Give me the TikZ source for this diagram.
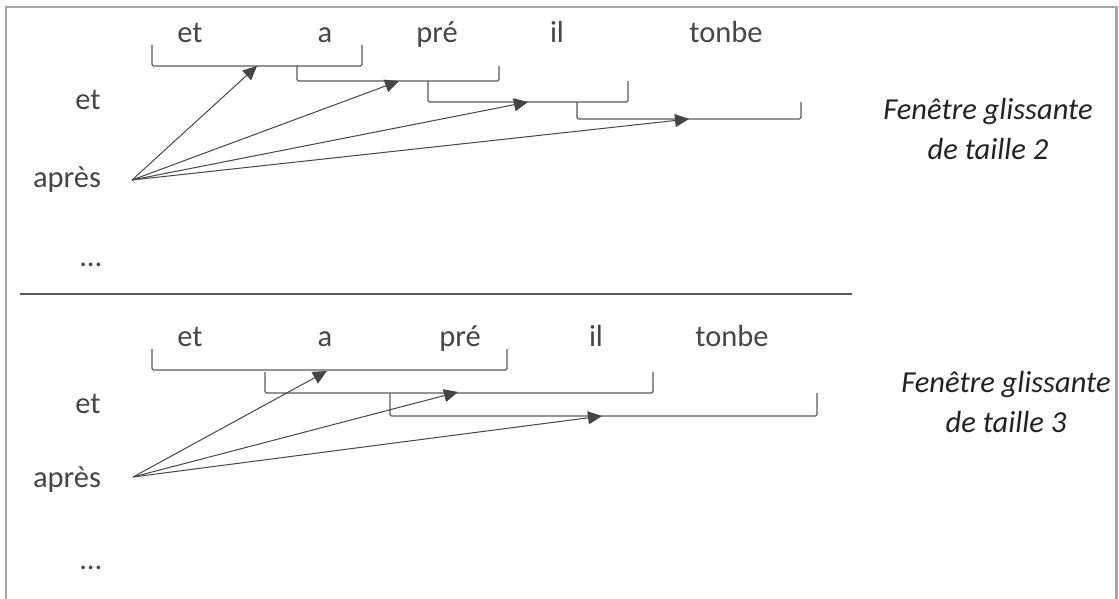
\documentclass[tikz,border=0pt]{standalone}
\usepackage{fontspec}
\setmainfont{Carlito}
\usetikzlibrary{arrows.meta}
\definecolor{txt}{HTML}{454545}
\definecolor{notec}{HTML}{222222}
\definecolor{frm}{HTML}{A6A6A6}
\definecolor{brk}{HTML}{5A5A5A}
\begin{document}
\begin{tikzpicture}[x=1pt,y=-1pt,
  word/.style={inner sep=0pt, anchor=base, text=txt, font=\fontsize{30.5}{36}\selectfont},
  note/.style={inner sep=0pt, anchor=base, text=notec, align=center, font=\fontsize{30.5}{40}\selectfont\itshape},
  brack/.style={draw=brk, line width=1.3pt, rounded corners=1.5pt},
  arr/.style={draw=txt, line width=1pt, -{Triangle[length=14pt,width=13pt]}},
  ]
\useasboundingbox (0,0) rectangle (1119,599);
% frame
\draw[frm, line width=2.5pt] (6,600) -- (6,7) -- (1116.5,7) -- (1116.5,600);
% separator
\draw[brk, line width=1.5pt] (20,294) -- (852,294);

% ===== top section =====
\node[word] (t1) at (190,43) {et};
\node[word] (t2) at (325,43) {a};
\node[word] (t3) at (437,43) {pré};
\node[word] (t4) at (557,43) {il};
\node[word] (t5) at (726,43) {tonbe};
\node[word] (l1) at (88,110) {et};
\node[word] (l2) at (67,187) {après};
\node[word] (l3) at (91,266) {…};
% anchor=base of a two-line node is the baseline of its last line
\node[note] (n1) at (988,160) {Fenêtre glissante\\de taille 2};

\draw[brack] (152,45) -- (152,66) -- (362,66) -- (362,45);
\draw[brack] (297,66) -- (297,81) -- (499,81) -- (499,66);
\draw[brack] (428,81) -- (428,102) -- (628,102) -- (628,81);
\draw[brack] (577,102) -- (577,119) -- (801,119) -- (801,102);

\coordinate (o1) at (132,180);
\coordinate (a1) at (257,66);
\coordinate (a2) at (399,81);
\coordinate (a3) at (528,102);
\coordinate (a4) at (689,119);
\draw[arr] (o1) -- (a1);
\draw[arr] (o1) -- (a2);
\draw[arr] (o1) -- (a3);
\draw[arr] (o1) -- (a4);

% ===== bottom section =====
\node[word] (u1) at (190,346) {et};
\node[word] (u2) at (325,346) {a};
\node[word] (u3) at (460,346) {pré};
\node[word] (u4) at (596,346) {il};
\node[word] (u5) at (732,346) {tonbe};
\node[word] (m1) at (88,413) {et};
\node[word] (m2) at (67,487) {après};
\node[word] (m3) at (91,569) {…};
\node[note] (n2) at (1006,432) {Fenêtre glissante\\de taille 3};

\draw[brack] (152,349) -- (152,370) -- (507,370) -- (507,349);
\draw[brack] (265,372) -- (265,393) -- (653,393) -- (653,372);
\draw[brack] (390,393) -- (390,416) -- (817,416) -- (817,393);

\coordinate (o2) at (133,477);
\coordinate (b1) at (327,371);
\coordinate (b2) at (458,392);
\coordinate (b3) at (602,416);
\draw[arr] (o2) -- (b1);
\draw[arr] (o2) -- (b2);
\draw[arr] (o2) -- (b3);
\end{tikzpicture}
\end{document}
